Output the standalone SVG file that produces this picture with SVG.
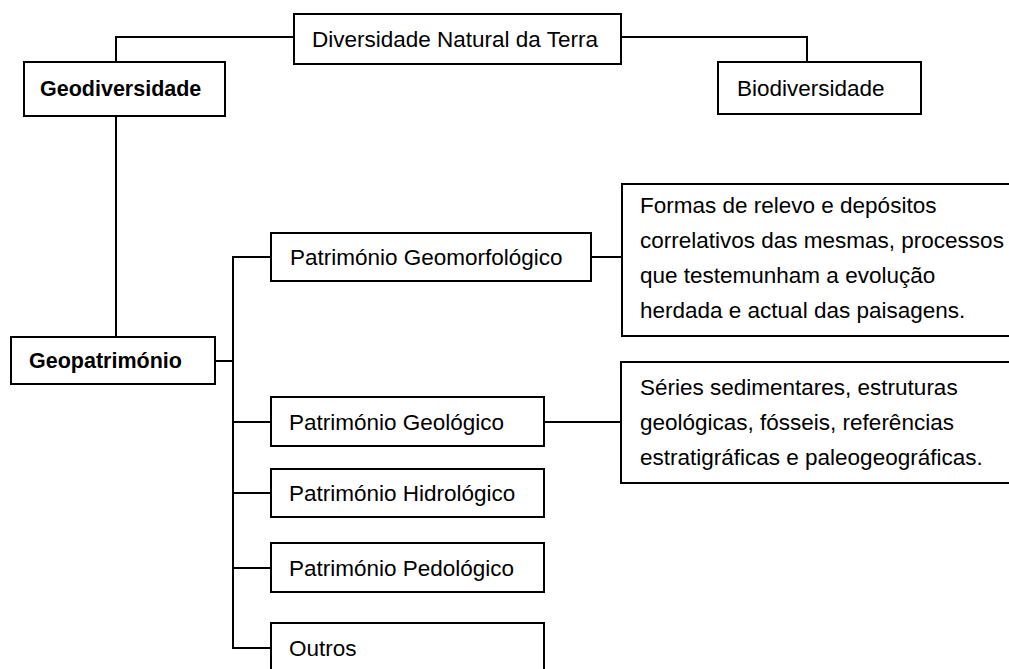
<svg xmlns="http://www.w3.org/2000/svg" width="1009" height="669" viewBox="0 0 1009 669">
<style>
rect.box{fill:#fff;stroke:#000;stroke-width:2}
.c{fill:none;stroke:#000;stroke-width:2}
text{font-family:"Liberation Sans",Arial,sans-serif;font-size:22.5px;fill:#000}
.b{font-weight:bold;font-size:21.5px}
.m{dominant-baseline:central}
</style>
<rect width="1009" height="669" fill="#fff"/>
<g id="connectors">
<polyline class="c" points="294,37 116,37 116,62"/>
<polyline class="c" points="621,37 807,37 807,62"/>
<line class="c" x1="116" y1="116" x2="116" y2="337"/>
<line class="c" x1="215" y1="361" x2="233" y2="361"/>
<polyline class="c" points="271,257 233,257 233,648 271,648"/>
<line class="c" x1="233" y1="422" x2="271" y2="422"/>
<line class="c" x1="233" y1="493" x2="271" y2="493"/>
<line class="c" x1="233" y1="568" x2="271" y2="568"/>
<line class="c" x1="591" y1="257" x2="622" y2="257"/>
<line class="c" x1="544" y1="422" x2="621" y2="422"/>
</g>
<g id="n_diversidade"><rect class="box" x="294" y="14" width="327" height="50"/><text class="m" x="312" y="39">Diversidade Natural da Terra</text></g>
<g id="n_geodiversidade"><rect class="box" x="24" y="62" width="201" height="54"/><text class="m b" x="40" y="89">Geodiversidade</text></g>
<g id="n_biodiversidade"><rect class="box" x="718" y="62" width="203" height="52"/><text class="m" x="737" y="88">Biodiversidade</text></g>
<g id="n_geopatrimonio"><rect class="box" x="11" y="337" width="204" height="47"/><text class="m b" x="29" y="360.5">Geopatrimónio</text></g>
<g id="n_geomorfologico"><rect class="box" x="271" y="233" width="320" height="48"/><text class="m" x="290" y="257">Património Geomorfológico</text></g>
<g id="n_formas"><rect class="box" x="622" y="184" width="400" height="152"/>
<text x="640" y="213">Formas de relevo e depósitos</text>
<text x="640" y="248">correlativos das mesmas, processos</text>
<text x="640" y="283">que testemunham a evolução</text>
<text x="640" y="318">herdada e actual das paisagens.</text></g>
<g id="n_geologico"><rect class="box" x="271" y="397" width="273" height="49"/><text class="m" x="289" y="422">Património Geológico</text></g>
<g id="n_series"><rect class="box" x="621" y="362" width="400" height="121"/>
<text x="640" y="395">Séries sedimentares, estruturas</text>
<text x="640" y="430">geológicas, fósseis, referências</text>
<text x="640" y="465">estratigráficas e paleogeográficas.</text></g>
<g id="n_hidrologico"><rect class="box" x="271" y="469" width="273" height="48"/><text class="m" x="289" y="493">Património Hidrológico</text></g>
<g id="n_pedologico"><rect class="box" x="271" y="543" width="273" height="49"/><text class="m" x="289" y="568">Património Pedológico</text></g>
<g id="n_outros"><rect class="box" x="271" y="623" width="273" height="60"/><text class="m" x="289" y="648">Outros</text></g>
</svg>
